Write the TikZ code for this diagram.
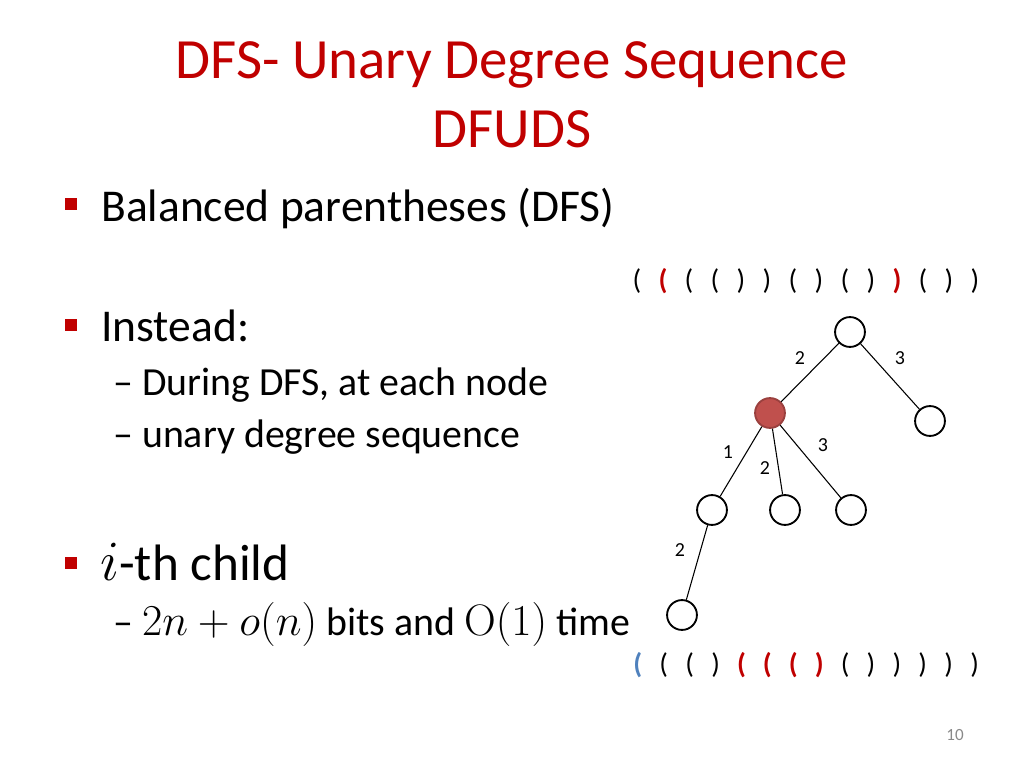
\RequirePackage{fix-cm}
\documentclass[tikz,border=0pt]{standalone}
\usepackage[no-math]{fontspec}
\setmainfont{Carlito}
\usepackage{tikz}
\usetikzlibrary{positioning, calc}
\definecolor{SlideRed}{RGB}{192,0,0}
\definecolor{NodeRed}{RGB}{192,80,77}
\definecolor{ParenBlue}{RGB}{79,129,189}
\definecolor{PageGray}{RGB}{137,137,137}
\newcommand{\pO}{(}
\newcommand{\pC}{)}
\newcommand{\rO}{\textcolor{SlideRed}{\textbf{(}}}
\newcommand{\rC}{\textcolor{SlideRed}{\textbf{)}}}
\newcommand{\bO}{\textcolor{ParenBlue}{\textbf{(}}}
\newcommand{\bigmath}[1]{{\fontsize{31}{36}\selectfont$#1$}}
\tikzset{
    treenode/.style={
        circle, draw, line width=1.3pt, fill=white, minimum size=21pt, inner sep=0pt
    },
    hilitenode/.style={
        treenode, fill=NodeRed, draw=NodeRed!80!black
    },
    treeedge/.style={
        line width=0.75pt
    },
    edgelabel/.style={
        font=\fontsize{14}{16}\selectfont, inner sep=0pt
    },
    paren/.style={
        font=\fontsize{20}{22}\selectfont, inner sep=0pt, anchor=center
    },
    bulletbox/.style={
        fill=SlideRed, minimum size=8pt, inner sep=0pt
    },
    bullettext/.style={
        anchor=base west, inner sep=0pt, font=\fontsize{32}{38}\selectfont
    },
    subtext/.style={
        anchor=base west, inner sep=0pt, font=\fontsize{28}{34}\selectfont
    }
}

\begin{document}
\begin{tikzpicture}[x=0.703125pt, y=-0.703125pt]
        \useasboundingbox (0,0) rectangle (1024,768);

        % title
        \node[anchor=base, SlideRed, font=\fontsize{40}{48}\selectfont, inner sep=0pt] (title1) at (512,79) {DFS- Unary Degree Sequence};
        \node[anchor=base, SlideRed, font=\fontsize{40}{48}\selectfont, inner sep=0pt] (title2) at (512,148) {DFUDS};

        % bullets
        \node[bulletbox] (b1) at (71,204) {};
        \node[bullettext] (t1) at (101,222) {Balanced parentheses (DFS)};
        \node[bulletbox] (b2) at (71,325) {};
        \node[bullettext] (t2) at (101,342) {Instead:};
        \node[subtext] (s1) at (113,395) {-- During DFS, at each node};
        \node[subtext] (s2) at (113,447) {-- unary degree sequence};
        \node[bulletbox] (b3) at (71,563) {};
        \node[bullettext, font=\fontsize{36}{42}\selectfont] (t3) at (100,580) {{\fontsize{40}{46}\selectfont$i$}-th child};
        \node[subtext] (s3) at (113,635) {-- \bigmath{2n+o(n)} bits and \bigmath{\mathrm{O}(1)} time};

        % parentheses (DFS)
        \foreach \p [count=\k] in {\pO,\rO,\pO,\pO,\pC,\pC,\pO,\pC,\pO,\pC,\rC,\pO,\pC,\pC}
            \node[paren] (top\k) at (611+26*\k, 281) {\p};

        % parentheses (DFUDS)
        \foreach \p [count=\k] in {\bO,\pO,\pO,\pC,\rO,\rO,\rO,\rC,\pO,\pC,\pC,\pC,\pC,\pC}
            \node[paren] (bot\k) at (612+25.9*\k, 665) {\p};

        % tree
        \node[treenode] (root) at (850,332) {};
        \node[hilitenode] (mid) at (770,413) {};
        \node[treenode] (right) at (930,421) {};
        \node[treenode] (c1) at (712,510) {};
        \node[treenode] (c2) at (785,510) {};
        \node[treenode] (c3) at (851,510) {};
        \node[treenode] (leaf) at (682,615) {};

        \draw[treeedge] (root) -- (mid);
        \draw[treeedge] (root) -- (right);
        \draw[treeedge] (mid) -- (c1);
        \draw[treeedge] (mid) -- (c2);
        \draw[treeedge] (mid) -- (c3);
        \draw[treeedge] (c1) -- (leaf);

        \node[edgelabel] (l1) at (800,358) {2};
        \node[edgelabel] (l2) at (900,358) {3};
        \node[edgelabel] (l3) at (728,452) {1};
        \node[edgelabel] (l4) at (765,468) {2};
        \node[edgelabel] (l5) at (823,445) {3};
        \node[edgelabel] (l6) at (680,550) {2};

        % page number
        \node[PageGray, font=\fontsize{12}{14}\selectfont, inner sep=0pt] (pg) at (955,735) {10};
    \end{tikzpicture}
\end{document}
